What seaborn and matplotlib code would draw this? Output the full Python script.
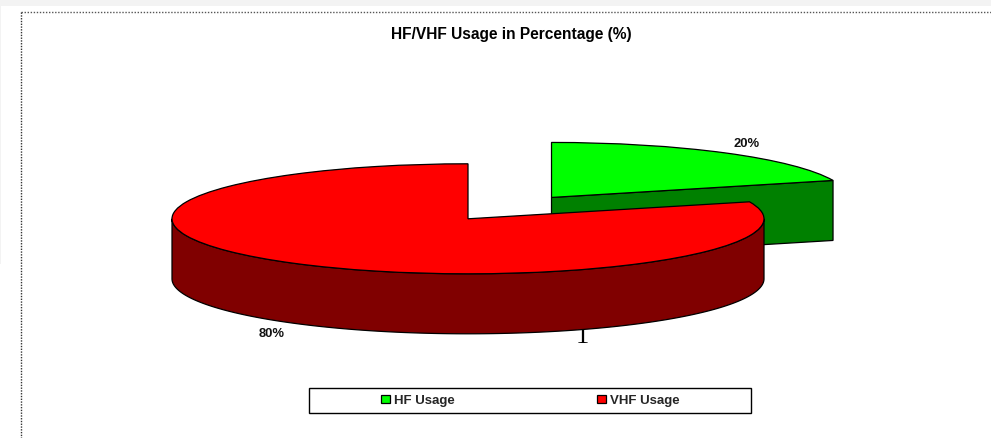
import numpy as np
import matplotlib
matplotlib.use('Agg')
import matplotlib.pyplot as plt
from matplotlib.patches import Rectangle
import seaborn as sns

# data
labels = ['HF Usage', 'VHF Usage']
values = [20, 80]
top_colors = ['#00ff00', '#ff0000']
side_colors = ['#008000', '#800000']
chart_title = 'HF/VHF Usage in Percentage (%)'

W, H = 991, 439
CX, CY = 468, 219.8   # pie centre in pixels
RX, RY = 296, 55      # ellipse radii in pixels
DEPTH = 60 / RY       # thickness of the pie, in y data units


def px(x, y):
    # pixel position of the reference -> data coordinates
    return (x - CX) / RX, (CY - y) / RY


sns.set_theme(style='white')
plt.rcParams['font.family'] = ['Liberation Sans', 'DejaVu Sans']

fig = plt.figure(figsize=(W / 100, H / 100), dpi=100)
ax = fig.add_axes([0, 0, 1, 1])

# pie top faces, squashed by the axes limits to get the 3d look
wedges, _ = ax.pie(values, explode=[0.48, 0], startangle=18, radius=1,
                   colors=sns.color_palette(top_colors),
                   wedgeprops={'edgecolor': 'black', 'linewidth': 0.9})
ax.set_aspect('auto')
ax.set_xlim(px(0, 0)[0], px(W, 0)[0])
ax.set_ylim(px(0, H)[1], px(0, 0)[1])
ax.set_axis_off()

for i, w in enumerate(wedges):
    cx, cy = w.center
    w.set_zorder(2 * i + 3)
    # outer rim, only the part facing the viewer
    t1, t2 = max(w.theta1, 180), min(w.theta2, 360)
    if t2 > t1:
        t = np.radians(np.linspace(t1, t2, 200))
        xs = cx + np.cos(t)
        ys = cy + np.sin(t)
        ax.fill(np.r_[xs, xs[::-1]], np.r_[ys, ys[::-1] - DEPTH],
                facecolor=side_colors[i], edgecolor='black', linewidth=0.9,
                zorder=2 * i + 2)
    else:
        # cut face of the pulled out slice
        t = np.radians(w.theta1)
        xs = [cx, cx + np.cos(t), cx + np.cos(t), cx]
        ys = [cy, cy + np.sin(t), cy + np.sin(t) - DEPTH, cy - DEPTH]
        ax.fill(xs, ys, facecolor=side_colors[i], edgecolor='black',
                linewidth=0.9, zorder=2 * i + 2)

# title and value labels
ax.text(*px(511, 35), chart_title, ha='center', va='center',
        fontsize=11.2, fontweight='bold', color='black')
ax.text(*px(747, 143.7), f'{values[0]}%', ha='center', va='center',
        fontsize=9.4, fontweight='bold', color='#111111')
ax.text(*px(272, 333.7), f'{values[1]}%', ha='center', va='center',
        fontsize=9.4, fontweight='bold', color='#111111')
# stray page number from the scan, sits behind the pie
ax.text(*px(582, 337), '1', ha='center', va='center', fontsize=19,
        family='Liberation Serif', color='black', zorder=1)

# page border and grey strips
ax.plot(*zip(px(21, 12.5), px(W, 12.5)), color='#555555', lw=1, ls=(0, (1, 1.2)), zorder=1)
ax.plot(*zip(px(21, 12.5), px(21, H)), color='#333333', lw=1, ls=(0, (1, 1)), zorder=1)
x0, y0 = px(0, 7)
x1, y1 = px(W, 0)
ax.add_patch(Rectangle((x0, y0), x1 - x0, y1 - y0, fc='#f3f3f3', ec='none', zorder=1))
x0, y0 = px(0, 265)
x1, y1 = px(1, 0)
ax.add_patch(Rectangle((x0, y0), x1 - x0, y1 - y0, fc='#f3f3f3', ec='none', zorder=1))

# legend box, drawn apart so the entries can sit wide inside it
x0, y0 = px(309, 413.5)
x1, y1 = px(751, 388.5)
ax.add_patch(Rectangle((x0, y0), x1 - x0, y1 - y0, fc='white', ec='black', lw=1, zorder=8))
leg = ax.legend(wedges, labels, ncol=2, frameon=False,
                prop={'weight': 'bold', 'size': 9.5},
                loc='center', bbox_to_anchor=px(530.5, 401.5),
                bbox_transform=ax.transData,
                handlelength=0.68, handleheight=0.5, handletextpad=0.3,
                columnspacing=10.8, borderpad=0)
leg.set_zorder(9)

fig.savefig('out.png', dpi=100)
